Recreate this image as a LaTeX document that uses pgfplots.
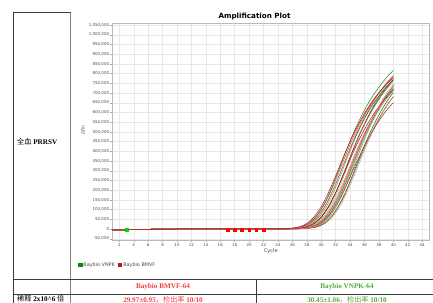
\documentclass[border=0pt]{standalone}
\usepackage{pgfplots}
\pgfplotsset{compat=1.18}
\usepackage{fontspec}
\setmainfont{Liberation Serif}
\newfontfamily\chartfont{DejaVu Sans}
\newfontfamily\cjk{Noto Sans CJK SC}
\definecolor{r1}{RGB}{180,20,30}
\definecolor{r2}{RGB}{215,60,70}
\definecolor{r3}{RGB}{235,125,135}
\definecolor{r4}{RGB}{140,45,30}
\definecolor{g1}{RGB}{20,140,30}
\definecolor{g2}{RGB}{80,175,80}
\definecolor{g3}{RGB}{140,205,140}
\definecolor{g4}{RGB}{30,100,30}
\definecolor{legG}{RGB}{0,140,20}
\definecolor{legR}{RGB}{190,20,35}
\definecolor{txtR}{RGB}{235,65,65}
\definecolor{txtG}{RGB}{80,170,60}
\definecolor{tline}{RGB}{60,60,60}
\definecolor{gridc}{RGB}{232,232,232}
\begin{document}
\begin{tikzpicture}
\useasboundingbox (0bp,0bp) rectangle (433bp,303bp);
% table lines
\draw[tline, line width=0.8bp] (13bp,290.3bp) -- (71bp,290.3bp);
\draw[tline, line width=0.8bp] (13bp,290.3bp) -- (13bp,0bp);
\draw[gray, line width=1.6bp] (70.5bp,290.3bp) -- (70.5bp,0bp);
\draw[tline, line width=0.8bp] (13bp,23.5bp) -- (433bp,23.5bp);
\draw[tline, line width=0.8bp] (13bp,9bp) -- (433bp,9bp);
\draw[tline, line width=0.8bp] (256.5bp,23.5bp) -- (256.5bp,0bp);
% table text
\node[anchor=west, inner sep=0pt, font=\fontsize{7.2}{8}\selectfont] at (17bp,161bp) {{\cjk 全血} \textbf{PRRSV}};
\node[anchor=west, inner sep=0pt, font=\fontsize{7.2}{8}\selectfont] at (17bp,3.8bp) {{\cjk 稀释} \textbf{2x10\textasciicircum6} {\cjk 倍}};
\node[inner sep=0pt, text=txtR, font=\fontsize{7.2}{8}\selectfont\bfseries] at (163bp,16.5bp) {Baybio BMVF-64};
\node[inner sep=0pt, text=txtR, font=\fontsize{7.2}{8}\selectfont] at (163bp,3.6bp) {\textbf{29.97±0.95}{\cjk ，检出率} \textbf{10/10}};
\node[inner sep=0pt, text=txtG, font=\fontsize{7.2}{8}\selectfont\bfseries] at (347bp,16.5bp) {Baybio VNPK-64};
\node[inner sep=0pt, text=txtG, font=\fontsize{7.2}{8}\selectfont] at (347bp,3.6bp) {\textbf{30.45±1.06}{\cjk ，检出率} \textbf{10/10}};
% chart texts
\node[inner sep=0pt, font=\chartfont\fontsize{7.2}{8}\selectfont\bfseries] at (254.5bp,286.3bp) {Amplification Plot};
\node[inner sep=0pt, rotate=90, text=black!65, font=\chartfont\fontsize{4.5}{5}\selectfont] at (83bp,173bp) {ΔRn};
\node[inner sep=0pt, text=black!70, font=\chartfont\fontsize{5.1}{6}\selectfont] at (270.7bp,52.3bp) {Cycle};
\begin{axis}[
  at={(112.1bp,63bp)}, anchor=south west,
  scale only axis, width=317.3bp, height=217bp,
  xmin=1, xmax=45, ymin=-56620, ymax=1060300,
  xtick distance=2, ytick distance=50000,
  scaled y ticks=false,
  /pgf/number format/.cd, fixed, 1000 sep={,}, precision=0, assume math mode=true,
  /pgfplots/.cd,
  tick label style={font=\chartfont\fontsize{4}{5}\selectfont, text=black!70},
  yticklabel style={inner sep=0.8bp},
  xticklabel style={inner sep=1.5bp},
  tick align=outside, major tick length=2bp,
  tick style={gray!70, line width=0.4bp},
  xtick pos=bottom, ytick pos=left,
  grid=major, major grid style={gridc, line width=0.4bp},
  axis line style={gray!55, line width=0.5bp},
  legend style={at={(axis description cs:-0.107,-0.115)}, anchor=west, draw=none, fill=none,
    font=\chartfont\fontsize{4.9}{6}\selectfont, text=black!70, legend columns=2,
    /tikz/every even column/.append style={column sep=2.5bp}, inner sep=0pt,
    nodes={inner sep=0.9bp}},
  legend image code/.code={\fill[#1] (0bp,-2.1bp) rectangle (4.2bp,2.1bp);},
]
\addlegendimage{fill=legG, draw=none}
\addlegendentry{Baybio VNPK}
\addlegendimage{fill=legR, draw=none}
\addlegendentry{Baybio BMVF}
\pgfplotsset{every axis plot/.append style={line width=0.5bp, smooth}}
% G7
\addplot[g1, forget plot] coordinates {(1,-5000) (3,-4000) (6,-1500) (10,0) (15,500) (20,500) (25.9,1000) (26.9,2000) (27.9,5000) (28.9,12000) (29.9,30000) (30.9,65000) (31.9,120000) (32.9,195000) (33.9,285000) (34.9,380000) (35.9,470000) (36.9,550000) (37.9,620000) (38.9,680000) (39.9,730000) (40,734500)};
% G10
\addplot[g3, forget plot] coordinates {(1,-5000) (3,-4000) (6,-1500) (10,0) (15,500) (20,500) (26.6,1000) (27.6,1940) (28.6,4850) (29.6,11640) (30.6,29100) (31.6,63050) (32.6,116400) (33.6,189150) (34.6,276450) (35.6,368600) (36.6,455900) (37.6,533500) (38.6,601400) (39.6,659600) (40,679000)};
% G6
\addplot[g2, forget plot] coordinates {(1,-5000) (3,-4000) (6,-1500) (10,0) (15,500) (20,500) (25.7,1000) (26.7,1920) (27.7,4800) (28.7,11520) (29.7,28800) (30.7,62400) (31.7,115200) (32.7,187200) (33.7,273600) (34.7,364800) (35.7,451200) (36.7,528000) (37.7,595200) (38.7,652800) (39.7,700800) (40,713800)};
% G9
\addplot[g4, forget plot] coordinates {(1,-5000) (3,-4000) (6,-1500) (10,0) (15,500) (20,500) (26.4,1000) (27.4,1980) (28.4,4950) (29.4,11880) (30.4,29700) (31.4,64350) (32.4,118800) (33.4,193050) (34.4,282150) (35.4,376200) (36.4,465300) (37.4,544500) (38.4,613800) (39.4,673200) (40,702900)};
% G8
\addplot[g2, forget plot] coordinates {(1,-5000) (3,-4000) (6,-1500) (10,0) (15,500) (20,500) (26.2,1000) (27.2,2040) (28.2,5100) (29.2,12240) (30.2,30600) (31.2,66300) (32.2,122400) (33.2,198900) (34.2,290700) (35.2,387600) (36.2,479400) (37.2,561000) (38.2,632400) (39.2,693600) (40,734400)};
% R8 (lowest)
\addplot[r4, forget plot] coordinates {(1,-5000) (3,-4000) (6,-1500) (10,0) (15,500) (20,500) (25.8,1000) (26.8,1760) (27.8,4400) (28.8,10560) (29.8,26400) (30.8,57200) (31.8,105600) (32.8,171600) (33.8,250800) (34.8,334400) (35.8,413600) (36.8,484000) (37.8,545600) (38.8,598400) (39.8,642400) (40,650300)};
% R10
\addplot[r2, forget plot] coordinates {(1,-5000) (3,-4000) (6,-1500) (10,0) (15,500) (20,500) (26.4,1000) (27.4,1920) (28.4,4800) (29.4,11520) (30.4,28800) (31.4,62400) (32.4,115200) (33.4,187200) (34.4,273600) (35.4,364800) (36.4,451200) (37.4,528000) (38.4,595200) (39.4,652800) (40,681600)};
% G4
\addplot[g1, forget plot] coordinates {(1,-5000) (3,-4000) (6,-1500) (10,0) (15,500) (20,500) (25.1,1000) (26.1,1980) (27.1,4950) (28.1,11880) (29.1,29700) (30.1,64350) (31.1,118800) (32.1,193050) (33.1,282150) (34.1,376200) (35.1,465300) (36.1,544500) (37.1,613800) (38.1,673200) (39.1,722700) (40,762800)};
% R6
\addplot[r3, forget plot] coordinates {(1,-5000) (3,-4000) (6,-1500) (10,0) (15,500) (20,500) (25.4,1000) (26.4,1900) (27.4,4750) (28.4,11400) (29.4,28500) (30.4,61750) (31.4,114000) (32.4,185250) (33.4,270750) (34.4,361000) (35.4,446500) (36.4,522500) (37.4,589000) (38.4,646000) (39.4,693500) (40,719200)};
% G5
\addplot[g3, forget plot] coordinates {(1,-5000) (3,-4000) (6,-1500) (10,0) (15,500) (20,500) (25.4,1000) (26.4,2080) (27.4,5200) (28.4,12480) (29.4,31200) (30.4,67600) (31.4,124800) (32.4,202800) (33.4,296400) (34.4,395200) (35.4,488800) (36.4,572000) (37.4,644800) (38.4,707200) (39.4,759200) (40,787300)};
% R4
\addplot[r1, forget plot] coordinates {(1,-5000) (3,-4000) (6,-1500) (10,0) (15,500) (20,500) (24.9,1000) (25.9,1800) (26.9,4600) (27.9,11000) (28.9,27600) (29.9,59800) (30.9,110400) (31.9,179400) (32.9,262200) (33.9,349600) (34.9,432400) (35.9,506000) (36.9,570400) (37.9,625600) (38.9,671600) (39.9,713000) (40,716200)};
% G3
\addplot[g2, forget plot] coordinates {(1,-5000) (3,-4000) (6,-1500) (10,0) (15,500) (20,500) (24.8,1000) (25.8,2020) (26.8,5050) (27.8,12120) (28.8,30300) (29.8,65650) (30.8,121200) (31.8,196950) (32.8,287850) (33.8,383800) (34.8,474700) (35.8,555500) (36.8,626200) (37.8,686800) (38.8,737300) (39.8,782750) (40,789800)};
% R7
\addplot[r2, forget plot] coordinates {(1,-5000) (3,-4000) (6,-1500) (10,0) (15,500) (20,500) (25.6,1000) (26.6,1940) (27.6,4850) (28.6,11640) (29.6,29100) (30.6,63050) (31.6,116400) (32.6,189150) (33.6,276450) (34.6,368600) (35.6,455900) (36.6,533500) (37.6,601400) (38.6,659600) (39.6,708100) (40,725600)};
% G2
\addplot[g4, forget plot] coordinates {(1,-5000) (3,-4000) (6,-1500) (10,0) (15,500) (20,500) (24.5,1000) (25.5,1940) (26.5,4850) (27.5,11640) (28.5,29100) (29.5,63050) (30.5,116400) (31.5,189150) (32.5,276450) (33.5,368600) (34.5,455900) (35.5,533500) (36.5,601400) (37.5,659600) (38.5,708100) (39.5,751750) (40,768700)};
% R9
\addplot[r3, forget plot] coordinates {(1,-5000) (3,-4000) (6,-1500) (10,0) (15,500) (20,500) (26.1,1000) (27.1,2060) (28.1,5150) (29.1,12360) (30.1,30900) (31.1,66950) (32.1,123600) (33.1,200850) (34.1,293550) (35.1,391400) (36.1,484100) (37.1,566500) (38.1,638600) (39.1,700400) (40,746800)};
% G1 (highest)
\addplot[g1, forget plot] coordinates {(1,-5000) (3,-4000) (6,-1500) (10,0) (15,500) (20,500) (24.3,1000) (25.3,2040) (26.3,5100) (27.3,12240) (28.3,30600) (29.3,66300) (30.3,122400) (31.3,198900) (32.3,290700) (33.3,387600) (34.3,479400) (35.3,561000) (36.3,632400) (37.3,693600) (38.3,744600) (39.3,790500) (40,815500)};
% R5
\addplot[r1, forget plot] coordinates {(1,-5000) (3,-4000) (6,-1500) (10,0) (15,500) (20,500) (25.1,1000) (26.1,2000) (27.1,5000) (28.1,12000) (29.1,30000) (30.1,65000) (31.1,120000) (32.1,195000) (33.1,285000) (34.1,380000) (35.1,470000) (36.1,550000) (37.1,620000) (38.1,680000) (39.1,730000) (40,770500)};
% R3
\addplot[r3, forget plot] coordinates {(1,-5000) (3,-4000) (6,-1500) (10,0) (15,500) (20,500) (24.6,1000) (25.6,2000) (26.6,5000) (27.6,12000) (28.6,30000) (29.6,65000) (30.6,120000) (31.6,195000) (32.6,285000) (33.6,380000) (34.6,470000) (35.6,550000) (36.6,620000) (37.6,680000) (38.6,730000) (39.6,775000) (40,789000)};
% R2
\addplot[r2, forget plot] coordinates {(1,-5000) (3,-4000) (6,-1500) (10,0) (15,500) (20,500) (24.3,1000) (25.3,2000) (26.3,4900) (27.3,11800) (28.3,29400) (29.3,63700) (30.3,117600) (31.3,191100) (32.3,279300) (33.3,372400) (34.3,460600) (35.3,539000) (36.3,607600) (37.3,666400) (38.3,715400) (39.3,759500) (40,783500)};
% R1
\addplot[r1, forget plot] coordinates {(1,-5000) (3,-4000) (6,-1500) (10,0) (15,500) (20,500) (24,1000) (25,2000) (26,5000) (27,11500) (28,28800) (29,62400) (30,115200) (31,187200) (32,273600) (33,364800) (34,451200) (35,528000) (36,595200) (37,652800) (38,700800) (39,744000) (40,777600)};
% baseline markers
\addplot[only marks, mark=square*, mark size=1.3bp, color=green!85!black, draw=none, forget plot] coordinates {(3,-5000)};
\addplot[only marks, mark=square*, mark size=1.3bp, color=red, draw=none, forget plot] coordinates {(17,-5000) (18,-5000) (19,-5000) (20,-5000) (21,-5000) (22,-5000)};
\end{axis}
\end{tikzpicture}
\end{document}
